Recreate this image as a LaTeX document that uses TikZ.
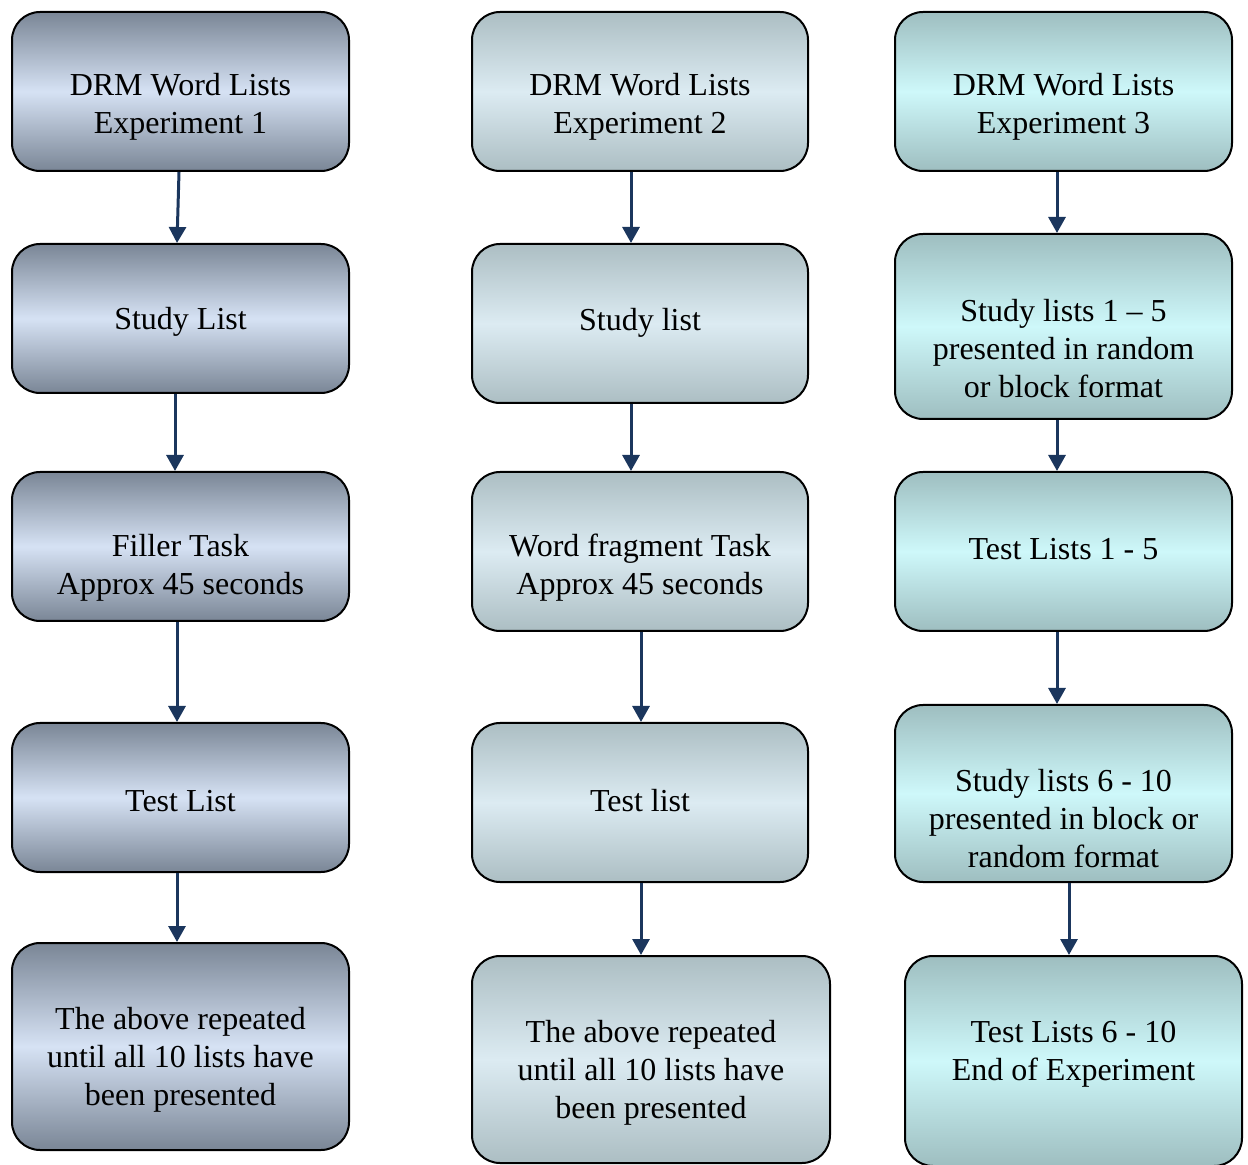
\documentclass[tikz,border=0pt]{standalone}
\usepackage{fontspec}
\setmainfont{Liberation Serif}
\usetikzlibrary{arrows.meta}

\definecolor{expAdark}{RGB}{122,134,150}
\definecolor{expAlight}{RGB}{214,226,244}
\definecolor{expBdark}{RGB}{172,190,195}
\definecolor{expBlight}{RGB}{220,235,242}
\definecolor{expCdark}{RGB}{158,190,192}
\definecolor{expClight}{RGB}{206,248,250}
\definecolor{flowblue}{RGB}{27,54,93}

\tikzset{
	box/.style={draw=black, line width=1pt, rounded corners=14pt, inner sep=0pt},
	boxA/.style={box, top color=expAdark, bottom color=expAdark, middle color=expAlight},
	boxB/.style={box, top color=expBdark, bottom color=expBdark, middle color=expBlight},
	boxC/.style={box, top color=expCdark, bottom color=expCdark, middle color=expClight},
	txt/.style={align=center, font=\fontsize{16}{19}\selectfont, yshift=-1.75pt},
	flow/.style={draw=flowblue, line width=1.5pt, -{Triangle[width=8.5pt,length=8pt]}}
}

\begin{document}
\begin{tikzpicture}[x=0.5pt, y=-0.5pt]
				% page size, in pixels of the reference
				\useasboundingbox (0,0) rectangle (1248,1165);

				% Experiment 1
				\node[boxA, minimum width=168.5pt, minimum height=79.5pt] (a1) at (180.5,91.5) {};
				\node[boxA, minimum width=168.5pt, minimum height=74.5pt] (a2) at (180.5,318.5) {};
				\node[boxA, minimum width=168.5pt, minimum height=74.5pt] (a3) at (180.5,546.5) {};
				\node[boxA, minimum width=168.5pt, minimum height=74.5pt] (a4) at (180.5,797.5) {};
				\node[boxA, minimum width=168.5pt, minimum height=103.5pt] (a5) at (180.5,1046.5) {};
				\node[txt] (a1t) at ([yshift=-5.75pt]a1.center) {DRM Word Lists\\Experiment 1};
				\node[txt] (a2t) at (a2.center) {Study List};
				\node[txt] (a3t) at ([yshift=-8.75pt]a3.center) {Filler Task\\Approx 45 seconds};
				\node[txt] (a4t) at (a4.center) {Test List};
				\node[txt] (a5t) at ([yshift=-4.75pt]a5.center) {The above repeated\\until all 10 lists have\\been presented};

				% Experiment 2
				\node[boxB, minimum width=168pt, minimum height=79.5pt] (b1) at (640,91.5) {};
				\node[boxB, minimum width=168pt, minimum height=79.5pt] (b2) at (640,323.5) {};
				\node[boxB, minimum width=168pt, minimum height=79.5pt] (b3) at (640,551.5) {};
				\node[boxB, minimum width=168pt, minimum height=79.5pt] (b4) at (640,802.5) {};
				\node[boxB, minimum width=179pt, minimum height=103.5pt] (b5) at (651,1059.5) {};
				\node[txt] (b1t) at ([yshift=-6pt]b1.center) {DRM Word Lists\\Experiment 2};
				\node[txt] (b2t) at ([yshift=2.25pt]b2.center) {Study list};
				\node[txt] (b3t) at ([yshift=-6.5pt]b3.center) {Word fragment Task\\Approx 45 seconds};
				\node[txt] (b4t) at ([yshift=2.75pt]b4.center) {Test list};
				\node[txt] (b5t) at ([yshift=-4.75pt]b5.center) {The above repeated\\until all 10 lists have\\been presented};

				% Experiment 3
				\node[boxC, minimum width=168.5pt, minimum height=79.5pt] (c1) at (1063.5,91.5) {};
				\node[boxC, minimum width=168.5pt, minimum height=92.5pt] (c2) at (1063.5,326.5) {};
				\node[boxC, minimum width=168.5pt, minimum height=79.5pt] (c3) at (1063.5,551.5) {};
				\node[boxC, minimum width=168.5pt, minimum height=88.5pt] (c4) at (1063.5,793.5) {};
				\node[boxC, minimum width=168.5pt, minimum height=105pt] (c5) at (1073.5,1061) {};
				\node[txt] (c1t) at ([yshift=-6pt]c1.center) {DRM Word Lists\\Experiment 3};
				\node[txt] (c2t) at ([yshift=-9.5pt]c2.center) {Study lists 1 – 5\\presented in random\\or block format};
				\node[txt] (c3t) at ([yshift=2.75pt]c3.center) {Test Lists 1 - 5};
				\node[txt] (c4t) at ([yshift=-11pt]c4.center) {Study lists 6 - 10\\presented in block or\\random format};
				\node[txt] (c5t) at ([yshift=5.25pt]c5.center) {Test Lists 6 - 10\\End of Experiment};

				% Arrows
				\draw[flow] ([xshift=-0.75pt]a1.south) -- ([xshift=-1.75pt]a2.north);
				\draw[flow] ([xshift=-2.75pt]a2.south) -- ([xshift=-2.75pt]a3.north);
				\draw[flow] ([xshift=-1.75pt]a3.south) -- ([xshift=-1.75pt]a4.north);
				\draw[flow] ([xshift=-1.75pt]a4.south) -- ([xshift=-1.75pt]a5.north);

				\draw[flow] ([xshift=-4.5pt]b1.south) -- ([xshift=-4.5pt]b2.north);
				\draw[flow] ([xshift=-4.5pt]b2.south) -- ([xshift=-4.5pt]b3.north);
				\draw[flow] ([xshift=0.5pt]b3.south) -- ([xshift=0.5pt]b4.north);
				\draw[flow] ([xshift=0.5pt]b4.south) -- ([xshift=-5pt]b5.north);

				\draw[flow] ([xshift=-3.25pt]c1.south) -- ([xshift=-3.25pt]c2.north);
				\draw[flow] ([xshift=-3.25pt]c2.south) -- ([xshift=-3.25pt]c3.north);
				\draw[flow] ([xshift=-3.25pt]c3.south) -- ([xshift=-3.25pt]c4.north);
				\draw[flow] ([xshift=2.75pt]c4.south) -- ([xshift=-2.25pt]c5.north);
			\end{tikzpicture}
\end{document}
